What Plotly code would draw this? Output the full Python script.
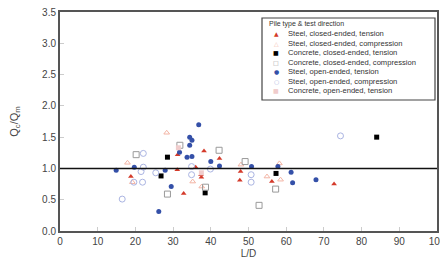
import plotly.graph_objects as go

# ---- data ----
steel_closed_tension_x = [18.8, 31.2, 31.1, 32.8, 36.0, 37.4, 37.5, 38.2, 42.3, 47.9, 47.7, 56.2, 72.7]
steel_closed_tension_y = [0.87, 1.22, 0.98, 0.60, 1.02, 0.90, 0.86, 1.28, 1.16, 0.95, 0.81, 0.79, 0.75]

steel_closed_comp_x = [17.9, 19.2, 28.3, 35.2, 37.6, 48.0, 54.9, 58.5, 58.2]
steel_closed_comp_y = [1.09, 0.78, 1.57, 0.79, 0.71, 1.06, 0.87, 0.82, 1.08]

concrete_closed_tension_x = [28.5, 26.8, 38.5, 57.3, 84.0]
concrete_closed_tension_y = [1.18, 0.88, 0.61, 0.92, 1.50]

concrete_closed_comp_x = [20.2, 28.5, 31.8, 38.6, 42.2, 49.1, 57.2, 52.8]
concrete_closed_comp_y = [1.22, 0.59, 1.37, 0.70, 1.29, 1.11, 0.67, 0.41]

steel_open_tension_x = [14.9, 19.7, 26.2, 27.9, 29.5, 31.7, 33.7, 35.0, 34.4, 34.4, 35.0, 36.8, 40.0, 42.3, 50.8, 57.8, 61.3, 61.7, 67.9]
steel_open_tension_y = [0.97, 1.02, 0.31, 0.97, 0.71, 1.26, 1.18, 1.19, 1.37, 1.50, 1.45, 1.70, 1.11, 1.04, 1.03, 1.03, 0.94, 0.77, 0.82]

steel_open_comp_x = [16.5, 19.6, 21.9, 21.5, 22.1, 22.1, 25.4, 34.9, 34.9, 39.9, 50.7, 50.7, 74.4]
steel_open_comp_y = [0.51, 0.78, 0.78, 0.95, 1.02, 1.24, 0.93, 0.90, 1.03, 0.99, 0.90, 0.78, 1.52]

concrete_open_tension_x = [37.5, 31.4]
concrete_open_tension_y = [0.93, 1.33]

x_ticks = [0, 10, 20, 30, 40, 50, 60, 70, 80, 90, 100]
y_ticks = [0.0, 0.5, 1.0, 1.5, 2.0, 2.5, 3.0, 3.5]

series = [
    ("Steel, closed-ended, tension", steel_closed_tension_x, steel_closed_tension_y,
     dict(symbol="triangle-up", color="#d43a2a", size=5), "\u25B2"),
    ("Steel, closed-ended, compression", steel_closed_comp_x, steel_closed_comp_y,
     dict(symbol="triangle-up-open", color="#f3b4a4", size=5), "\u25B3"),
    ("Concrete, closed-ended, tension", concrete_closed_tension_x, concrete_closed_tension_y,
     dict(symbol="square", color="#000000", size=5), "\u25A0"),
    ("Concrete, closed-ended, compression", concrete_closed_comp_x, concrete_closed_comp_y,
     dict(symbol="square-open", color="#9a9a9a", size=6), "\u25A1"),
    ("Steel, open-ended, tension", steel_open_tension_x, steel_open_tension_y,
     dict(symbol="circle", color="#3450a8", size=5), "\u25CF"),
    ("Steel, open-ended, compression", steel_open_comp_x, steel_open_comp_y,
     dict(symbol="circle-open", color="#aab4e2", size=6), "\u25CB"),
    ("Concrete, open-ended, tension", concrete_open_tension_x, concrete_open_tension_y,
     dict(symbol="square", color="#f0cccc", size=5), "\u25A0"),
]

fig = go.Figure()
for name, xs, ys, mk, glyph in series:
    fig.add_trace(go.Scatter(x=xs, y=ys, mode="markers", name=name, marker=mk,
                             showlegend=False))

fig.add_hline(y=1.0, line=dict(color="#111111", width=1.5))

# ---- page geometry (the page body adds an 8px offset) ----
OFF = 8
W, H = 448 - OFF, 264 - OFF
L, R, T, B = 60, 437, 12, 231          # plot area in window pixels


def px(x):
    return (x - L) / (R - L)


def py(y):
    return (B - y) / (B - T)


# ---- compact legend ----
row0, step = 33.5, 9.5
key_x, text_x = 276, 286
fig.add_shape(type="rect", xref="paper", yref="paper", x0=px(262), x1=px(435),
              y0=py(100), y1=py(18), line=dict(color="#444444", width=1.2),
              fillcolor="white", layer="below")
fig.add_annotation(xref="paper", yref="paper", x=px(267), y=py(24.5), xanchor="left",
                   yanchor="middle", text="Pile type & test direction", showarrow=False,
                   font=dict(size=7, color="#333333"))
for i, (name, xs, ys, mk, glyph) in enumerate(series):
    ry = row0 + i * step
    fig.add_annotation(xref="paper", yref="paper", x=px(key_x), y=py(ry), xanchor="center",
                       yanchor="middle", text=glyph, showarrow=False,
                       font=dict(size=6, color=mk["color"], family="DejaVu Sans"))
    fig.add_annotation(xref="paper", yref="paper", x=px(text_x), y=py(ry), xanchor="left",
                       yanchor="middle", text=name, showarrow=False,
                       font=dict(size=7.6, color="#333333"))

fig.update_layout(
    width=W, height=H,
    margin=dict(l=L - OFF, r=448 - R, t=T - OFF, b=264 - B),
    paper_bgcolor="white", plot_bgcolor="white",
    font=dict(family="Liberation Sans, Arial, sans-serif", size=10, color="#444444"),
    showlegend=False,
    xaxis=dict(
        range=[0, 100], tickvals=x_ticks, ticks="inside", ticklen=4, tickcolor="#cccccc",
        showgrid=False, zeroline=False, showline=True, linecolor="#555555", linewidth=2,
        mirror=True, automargin=False, ticklabeloverflow="allow",
        title=dict(text="L/D", font=dict(size=10, color="#444"), standoff=4),
    ),
    yaxis=dict(
        range=[0, 3.5], tickvals=y_ticks, tickformat=".1f", ticks="inside", ticklen=4,
        tickcolor="#cccccc", showgrid=False, zeroline=False, showline=True,
        linecolor="#555555", linewidth=2, mirror=True, automargin=False,
        ticklabeloverflow="allow",
        title=dict(text="Q<sub>c</sub>/Q<sub>m</sub>", font=dict(size=11, color="#444"), standoff=24),
    ),
)

fig.write_html("out.html")
